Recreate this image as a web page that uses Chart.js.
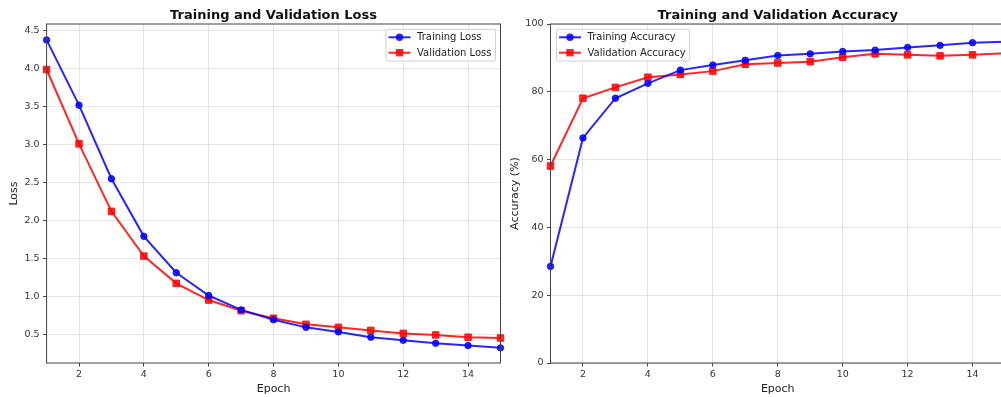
<!DOCTYPE html>
<html>
<head>
<meta charset="utf-8">
<script src="https://cdn.jsdelivr.net/npm/chart.js@4.4.1/dist/chart.umd.min.js"></script>
<style>
  html, body { margin: 0; padding: 0; background: #fff; width: 1001px; height: 397px; overflow: hidden; position: relative; }
  canvas { position: absolute; top: 0; }
  #lossChart { left: 0px; }
  #accChart { left: 501px; }
</style>
</head>
<body>
<canvas id="lossChart" width="520" height="397"></canvas>
<canvas id="accChart" width="520" height="397"></canvas>
<script>
// ---- Data ----
const epochs = [1, 2, 3, 4, 5, 6, 7, 8, 9, 10, 11, 12, 13, 14, 15];
const trainLoss = [4.38, 3.52, 2.55, 1.79, 1.31, 1.01, 0.82, 0.69, 0.59, 0.53, 0.46, 0.42, 0.38, 0.35, 0.32];
const valLoss   = [3.99, 3.01, 2.12, 1.53, 1.17, 0.95, 0.81, 0.71, 0.63, 0.59, 0.55, 0.51, 0.49, 0.46, 0.45];
const trainAcc  = [28.5, 66.4, 78.1, 82.5, 86.4, 87.9, 89.3, 90.7, 91.2, 91.9, 92.3, 93.1, 93.7, 94.5, 94.8];
const valAcc    = [58.1, 78.1, 81.3, 84.3, 85.1, 86.1, 88.1, 88.5, 88.9, 90.2, 91.2, 90.9, 90.6, 90.9, 91.4];
const xTickValues = [2, 4, 6, 8, 10, 12, 14];
const lossTickValues = [0.5, 1.0, 1.5, 2.0, 2.5, 3.0, 3.5, 4.0, 4.5];
const accTickValues = [0, 20, 40, 60, 80, 100];
const lossLabels = ['Training Loss', 'Validation Loss'];
const accLabels = ['Training Accuracy', 'Validation Accuracy'];

const FONT = "'DejaVu Sans', sans-serif";
const BLUE = 'rgba(0,0,255,0.85)';
const RED = 'rgba(255,0,0,0.85)';
const SPINE = '#444';
const GRID = 'rgba(176,176,176,0.3)';

function pts(ys) { return epochs.map((e, i) => ({ x: e, y: ys[i] })); }

function ds(label, ys, color, style) {
  return {
    label, data: pts(ys),
    borderColor: color, backgroundColor: color,
    borderWidth: 2,
    pointStyle: style,
    pointRadius: style === 'rect' ? 4.6 : 3.2,
    pointBorderWidth: 1,
    pointBorderColor: color,
    pointBackgroundColor: color,
    tension: 0,
    clip: false
  };
}

const framePlugin = {
  id: 'frameLegend',
  afterDatasetsDraw(chart, args, opts) {
    const { ctx, chartArea: a } = chart;
    ctx.save();
    ctx.strokeStyle = SPINE;
    ctx.lineWidth = 1;
    ctx.strokeRect(a.left, a.top, a.right - a.left, a.bottom - a.top);
    ctx.font = '10px ' + FONT;
    const items = chart.data.datasets;
    let maxW = 0;
    items.forEach(d => { maxW = Math.max(maxW, ctx.measureText(d.label).width); });
    const w = 31 + maxW + 4;
    const h = 31.7;
    const x0 = opts.align === 'right' ? a.right - 5 - w : a.left + 6;
    const y0 = a.top + 5.3;
    ctx.beginPath();
    if (ctx.roundRect) ctx.roundRect(x0, y0, w, h, 2); else ctx.rect(x0, y0, w, h);
    ctx.fillStyle = 'rgba(255,255,255,0.8)';
    ctx.fill();
    ctx.strokeStyle = '#d0d0d0';
    ctx.stroke();
    items.forEach((d, i) => {
      const cy = y0 + 8 + i * 15.4;
      ctx.strokeStyle = d.borderColor;
      ctx.lineWidth = 2;
      ctx.beginPath();
      ctx.moveTo(x0 + 2.5, cy);
      ctx.lineTo(x0 + 24.5, cy);
      ctx.stroke();
      ctx.fillStyle = d.borderColor;
      const mx = x0 + 13.5;
      if (d.pointStyle === 'rect') {
        ctx.fillRect(mx - 3.7, cy - 3.7, 7.4, 7.4);
      } else {
        ctx.beginPath(); ctx.arc(mx, cy, 3.7, 0, Math.PI * 2); ctx.fill();
      }
      ctx.fillStyle = '#222';
      ctx.textBaseline = 'middle';
      ctx.textAlign = 'left';
      ctx.fillText(d.label, x0 + 31, cy + 0.5);
    });
    ctx.restore();
  }
};

function makeChart(id, title, yTitle, datasets, yMin, yMax, yTicks, yFmt, yWidth, targetRight, legendAlign) {
  const canvas = document.getElementById(id);
  const chart = new Chart(canvas, {
    type: 'line',
    data: { datasets },
    options: {
      responsive: false,
      animation: false,
      devicePixelRatio: 1,
      layout: { padding: { left: 0, right: canvas.width - targetRight, top: 0, bottom: 0 } },
      plugins: {
        legend: { display: false },
        tooltip: { enabled: false },
        title: {
          display: true, text: title, fullSize: false,
          font: { family: FONT, size: 13, weight: 'bold' }, color: '#111',
          padding: { top: 8, bottom: 0.4 }
        },
        frameLegend: { align: legendAlign }
      },
      scales: {
        x: {
          type: 'linear', min: 1, max: 15,
          afterBuildTicks: s => { s.ticks = xTickValues.map(v => ({ value: v })); },
          afterFit: s => { s.height = 34; s.paddingLeft = 0; s.paddingRight = 0; },
          ticks: { font: { family: FONT, size: 9.5 }, color: '#333', padding: 2.5, maxRotation: 0, autoSkip: false, callback: v => String(v) },
          grid: { color: GRID, lineWidth: 1, tickLength: 3.5, tickColor: SPINE, drawTicks: true },
          border: { display: false },
          title: { display: true, text: 'Epoch', font: { family: FONT, size: 11 }, color: '#222', padding: { top: 0, bottom: 1 } }
        },
        y: {
          type: 'linear', min: yMin, max: yMax,
          afterBuildTicks: s => { s.ticks = yTicks.map(v => ({ value: v })); },
          afterFit: s => { s.width = yWidth; s.paddingTop = 0; s.paddingBottom = 0; },
          ticks: { font: { family: FONT, size: 9.5 }, color: '#333', padding: 3.5, autoSkip: false, callback: yFmt },
          grid: { color: GRID, lineWidth: 1, tickLength: 3.5, tickColor: SPINE, drawTicks: true },
          border: { display: false },
          title: { display: true, text: yTitle, font: { family: FONT, size: 11 }, color: '#222', padding: { top: 7.5, bottom: 0 } }
        }
      }
    },
    plugins: [framePlugin]
  });
  // correct any residual offset so the plot's right edge lands where intended
  const diff = chart.chartArea.right - targetRight;
  if (Math.abs(diff) > 0.05) {
    chart.options.layout.padding.right += diff;
    chart.update('none');
  }
  return chart;
}

makeChart('lossChart', 'Training and Validation Loss', 'Loss',
  [ds(lossLabels[0], trainLoss, BLUE, 'circle'), ds(lossLabels[1], valLoss, RED, 'rect')],
  0.12, 4.59, lossTickValues, v => Number(v).toFixed(1), 46.6, 500.5, 'right');

makeChart('accChart', 'Training and Validation Accuracy', 'Accuracy (%)',
  [ds(accLabels[0], trainAcc, BLUE, 'circle'), ds(accLabels[1], valAcc, RED, 'rect')],
  0, 100, accTickValues, v => String(v), 49.5, 504, 'left');
</script>
</body>
</html>
